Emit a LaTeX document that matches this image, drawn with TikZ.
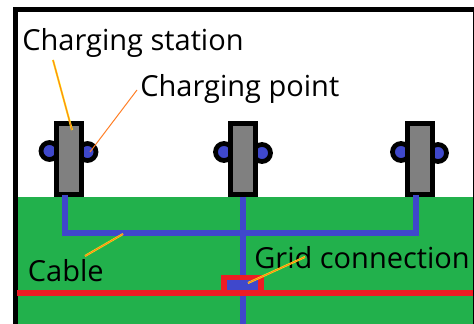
\documentclass[tikz,border=0pt]{standalone}
\usepackage{fontspec}
\setmainfont{Open Sans}
\definecolor{ground}{HTML}{22B14C}
\definecolor{cableblue}{HTML}{3F48CC}
\definecolor{gridred}{HTML}{ED1C24}
\definecolor{leadorange}{HTML}{FF7F27}
\definecolor{leadyellow}{HTML}{FFF200}
\tikzset{
  station/.style={draw=black,fill=gray,line width=1mm,minimum width=0.5cm,minimum height=1.42cm,inner sep=0pt},
  point/.style={circle,draw=black,fill=cableblue,line width=0.95mm,minimum size=0.34cm,inner sep=0pt},
  cable/.style={cableblue,line width=1.1mm},
  gridline/.style={gridred,line width=1.2mm},
  label/.style={anchor=west,inner sep=0pt,font=\fontsize{16.5}{20}\selectfont},
  glow/.style={leadyellow,line width=0.4mm},
  leader/.style={leadorange,line width=0.2mm}
}
\begin{document}
\begin{tikzpicture}
\useasboundingbox (0,0) rectangle (9.48,6.48);
\fill[ground] (0.34,0) rectangle (9.46,2.54);
\draw[line width=1mm] (0.3,0) -- (0.3,6.28) -- (9.5,6.28) -- (9.5,0);

% points go under the stations
\node[point] (pointa) at (0.99,3.46) {};
\node[point] (pointb) at (1.75,3.44) {};
\node[point] (pointc) at (4.48,3.44) {};
\node[point] (pointd) at (5.24,3.42) {};
\node[point] (pointe) at (8.02,3.44) {};
\node[point] (pointf) at (8.76,3.42) {};
\node[station] (stationa) at (1.38,3.30) {};
\node[station] (stationb) at (4.86,3.30) {};
\node[station] (stationc) at (8.40,3.30) {};

% cables
\coordinate (cablea) at (1.30,2.58);
\coordinate (cablec) at (8.32,2.58);
\coordinate (bottom) at (4.86,0);
\draw[cable] (cablea) |- (8.32,1.82) -- (cablec);
\draw[cable] (stationb.south) -- (bottom);

% grid
\coordinate (gridleft) at (0.34,0.61);
\coordinate (gridright) at (9.46,0.61);
\node[draw=gridred,fill=cableblue,line width=1.1mm,minimum width=0.74cm,minimum height=0.32cm,inner sep=0pt] (connection) at (4.85,0.77) {};
\draw[gridline] (gridleft) -- (gridright);

% labels
\node[label] (stationlabel) at (0.44,5.63) {Charging station};
\node[label] (pointlabel) at (2.80,4.70) {Charging point};
\node[label] (cablelabel) at (0.55,1.06) {Cable};
\node[label] (gridlabel) at (5.08,1.32) {Grid connection};

% leaders
\coordinate (stationfrom) at (1.06,5.28);
\coordinate (stationto) at (1.44,3.88);
\coordinate (pointfrom) at (2.74,4.68);
\coordinate (pointto) at (1.80,3.44);
\coordinate (cablefrom) at (1.70,1.36);
\coordinate (cableto) at (2.46,1.80);
\coordinate (gridfrom) at (6.10,1.34);
\coordinate (gridto) at (4.96,0.82);
\draw[glow] (stationfrom) -- (stationto);
\draw[glow] (cablefrom) -- (cableto);
\draw[glow] (gridfrom) -- (gridto);
\draw[leader,xshift=0.25mm] (stationfrom) -- (stationto);
\draw[leader] (pointfrom) -- (pointto);
\draw[leader,yshift=-0.25mm] (cablefrom) -- (cableto);
\draw[leader,yshift=-0.25mm] (gridfrom) -- (gridto);
\end{tikzpicture}
\end{document}
